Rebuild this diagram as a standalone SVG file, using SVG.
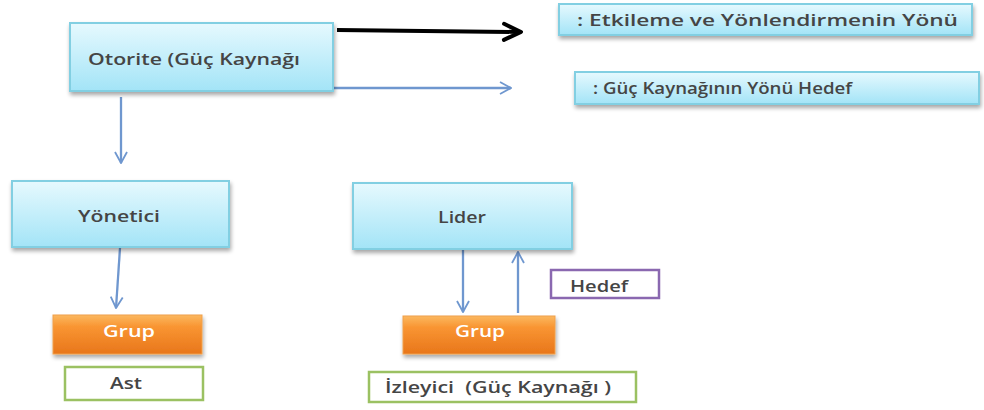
<svg xmlns="http://www.w3.org/2000/svg" width="984" height="410" viewBox="0 0 984 410">
  <defs>
    <linearGradient id="gBlue" x1="0" y1="0" x2="0" y2="1">
      <stop offset="0" stop-color="#e6f9fe"/>
      <stop offset="1" stop-color="#a3e4f7"/>
    </linearGradient>
    <linearGradient id="gOrange" x1="0" y1="0" x2="0" y2="1">
      <stop offset="0" stop-color="#fbb860"/>
      <stop offset="0.3" stop-color="#f99532"/>
      <stop offset="1" stop-color="#e8761b"/>
    </linearGradient>
    <filter id="shadow" x="-10%" y="-10%" width="120%" height="140%">
      <feGaussianBlur in="SourceAlpha" stdDeviation="2"/>
      <feOffset dx="1" dy="3"/>
      <feComponentTransfer><feFuncA type="linear" slope="0.35"/></feComponentTransfer>
      <feMerge><feMergeNode/><feMergeNode in="SourceGraphic"/></feMerge>
    </filter>
    <marker id="headBlue" viewBox="0 0 14 14" refX="13" refY="7" markerWidth="14" markerHeight="14" markerUnits="userSpaceOnUse" orient="auto">
      <path d="M2,1 L13,7 L2,13" fill="none" stroke="#6f97cf" stroke-width="1.8"/>
    </marker>
    <marker id="headBlack" viewBox="0 0 22 22" refX="20" refY="11" markerWidth="22" markerHeight="22" markerUnits="userSpaceOnUse" orient="auto">
      <path d="M3,3 L20,11 L3,19" fill="none" stroke="#000" stroke-width="4" stroke-linecap="round" stroke-linejoin="round"/>
    </marker>
    <style>
      .blue { fill: url(#gBlue); stroke: #82cfe2; stroke-width: 2; filter: url(#shadow); }
      .orange { fill: url(#gOrange); stroke: #f0a04a; stroke-width: 1; filter: url(#shadow); }
      .plain { fill: #ffffff; stroke-width: 2.5; }
      .t { font-family: "Open Sans", "Liberation Sans", sans-serif; font-size: 16px; font-weight: 600; fill: #454545; }
      .tw { font-family: "Open Sans", "Liberation Sans", sans-serif; font-size: 16px; fill: #ffffff; font-weight: 600; }
      .conn { fill: none; stroke: #6f97cf; stroke-width: 2.3; marker-end: url(#headBlue); }
    </style>
  </defs>

  <rect width="984" height="410" fill="#ffffff"/>

  <g id="connectors">
    <line x1="337" y1="30" x2="521" y2="32" stroke="#000" stroke-width="4" marker-end="url(#headBlack)"/>
    <line x1="333" y1="88" x2="511" y2="88" class="conn" stroke-width="1.4"/>
    <line x1="121" y1="97" x2="121" y2="163" class="conn"/>
    <line x1="120" y1="248" x2="116" y2="308" class="conn"/>
    <line x1="463" y1="250" x2="463" y2="312" class="conn"/>
    <line x1="518" y1="313" x2="518" y2="252" class="conn"/>
  </g>

  <g id="otorite">
    <rect class="blue" x="70" y="23" width="263" height="68"/>
    <text class="t" x="88" y="65" textLength="212" lengthAdjust="spacingAndGlyphs">Otorite (Güç Kaynağı</text>
  </g>

  <g id="legend-etkileme">
    <rect class="blue" x="559" y="4" width="413" height="31"/>
    <text class="t" x="577" y="26" textLength="381" lengthAdjust="spacingAndGlyphs">: Etkileme ve Yönlendirmenin Yönü</text>
  </g>

  <g id="legend-guc">
    <rect class="blue" x="575" y="72" width="404" height="32"/>
    <text class="t" x="593" y="94" textLength="259" lengthAdjust="spacingAndGlyphs">: Güç Kaynağının Yönü Hedef</text>
  </g>

  <g id="yonetici">
    <rect class="blue" x="12" y="181" width="217" height="66"/>
    <text class="t" x="78" y="222" textLength="82" lengthAdjust="spacingAndGlyphs">Yönetici</text>
  </g>

  <g id="grup-ast">
    <rect class="orange" x="53" y="315" width="149" height="39"/>
    <text class="tw" x="103" y="337" textLength="52" lengthAdjust="spacingAndGlyphs">Grup</text>
  </g>

  <g id="ast">
    <rect class="plain" x="65" y="367" width="138" height="33" stroke="#9bc162"/>
    <text class="t" x="110" y="389" textLength="32" lengthAdjust="spacingAndGlyphs">Ast</text>
  </g>

  <g id="lider">
    <rect class="blue" x="353" y="183" width="219" height="66"/>
    <text class="t" x="438" y="223" textLength="48" lengthAdjust="spacingAndGlyphs">Lider</text>
  </g>

  <g id="hedef">
    <rect class="plain" x="551" y="270" width="108" height="28" stroke="#8a68b0"/>
    <text class="t" x="570" y="292" textLength="58" lengthAdjust="spacingAndGlyphs">Hedef</text>
  </g>

  <g id="grup-izleyici">
    <rect class="orange" x="403" y="316" width="152" height="38"/>
    <text class="tw" x="455" y="337" textLength="50" lengthAdjust="spacingAndGlyphs">Grup</text>
  </g>

  <g id="izleyici">
    <rect class="plain" x="369" y="372" width="267" height="30" stroke="#9bc162"/>
    <text class="t" x="385" y="393" textLength="226" lengthAdjust="spacingAndGlyphs" xml:space="preserve">İzleyici  (Güç Kaynağı )</text>
  </g>
</svg>
